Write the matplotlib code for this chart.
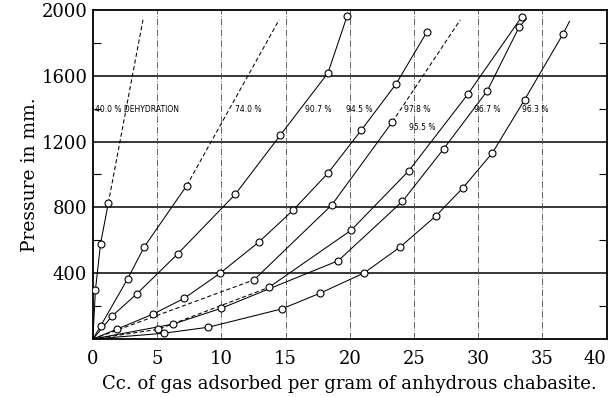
import matplotlib.pyplot as plt

plt.rcParams['font.family'] = 'DejaVu Serif'

# observed points: cc of gas adsorbed per gram, pressure in mm
x_400 = [0.2, 0.6, 1.2]
y_400 = [300, 580, 825]
x_740 = [0.6, 2.7, 4.0, 7.3]
y_740 = [79, 365, 560, 932]
x_907 = [1.5, 3.4, 6.6, 11.1, 14.6, 18.3, 19.8]
y_907 = [140, 273, 517, 881, 1240, 1617, 1965]
x_945 = [1.9, 4.7, 7.1, 9.9, 12.9, 15.6, 18.3, 20.9, 23.6, 26.0]
y_945 = [61, 152, 247, 400, 588, 784, 1008, 1270, 1550, 1866]
x_978 = [12.55, 18.6, 23.3]
y_978 = [360, 815, 1318]
x_955 = [5.1, 13.7, 20.1, 24.6, 29.2, 33.4]
y_955 = [59, 314, 661, 1023, 1489, 1960]
x_967 = [6.25, 10.0, 19.1, 24.1, 27.3, 30.7, 33.2]
y_967 = [91, 187, 476, 837, 1155, 1508, 1899]
x_963 = [5.5, 9.0, 14.7, 17.7, 21.1, 23.9, 26.7, 28.8, 31.1, 33.6, 36.6]
y_963 = [35, 72, 183, 279, 401, 558, 748, 918, 1131, 1453, 1854]

# where the curves are carried on past the last observation
end_400 = (3.9, 1940)
end_740 = (14.5, 1940)
end_978 = (28.6, 1940)
end_967 = (33.75, 1945)
end_963 = (37.1, 1930)

curve_names = ['40.0 % DEHYDRATION', '74.0 %', '90.7 %', '94.5 %',
               '97.8 %', '95.5 %', '96.7 %', '96.3 %']
name_x = [0.2, 11.1, 16.5, 19.7, 24.2, 24.6, 29.7, 33.4]
name_y = [1392, 1392, 1392, 1392, 1392, 1283, 1392, 1392]

fig = plt.figure(figsize=(6.11, 3.97), dpi=100)
ax = fig.add_axes([0.152, 0.146, 0.841, 0.829])

DASH = (0, (4, 2.5))


def run(xs, ys, ls='-'):
    ax.plot(xs, ys, color='black', lw=0.75, ls=ls, zorder=3)


def dots(xs, ys):
    ax.plot(xs, ys, 'o', ms=5, mfc='white', mec='black', mew=0.8, zorder=4)


# 40.0 % and 74.0 %: solid through the points, dashed beyond
for xs, ys, end in [(x_400, y_400, end_400), (x_740, y_740, end_740)]:
    run([0] + xs, [0] + ys)
    run([xs[-1], end[0]], [ys[-1], end[1]], DASH)
    dots(xs, ys)

run([0] + x_907, [0] + y_907)
dots(x_907, y_907)
run([0] + x_945, [0] + y_945)
dots(x_945, y_945)

# 97.8 %: dashed at both ends
run([0, x_978[0]], [0, y_978[0]], DASH)
run(x_978, y_978)
run([x_978[-1], end_978[0]], [y_978[-1], end_978[1]], DASH)
dots(x_978, y_978)

# 95.5 %: dashed near the origin
run([0] + x_955[:2], [0] + y_955[:2], DASH)
run(x_955[1:], y_955[1:])
dots(x_955, y_955)

for xs, ys, end in [(x_967, y_967, end_967), (x_963, y_963, end_963)]:
    run([0] + xs + [end[0]], [0] + ys + [end[1]])
    dots(xs, ys)

for t, tx, ty in zip(curve_names, name_x, name_y):
    ax.text(tx, ty, t, family='DejaVu Sans', fontsize=5.5, va='center',
            ha='left', zorder=5)

# grid: solid horizontals, dash-dot verticals
for yv in [400, 800, 1200, 1600]:
    ax.axhline(yv, color='black', lw=1.1, zorder=1)
for xv in range(5, 40, 5):
    ax.axvline(xv, color='0.3', lw=0.6, ls=(0, (8, 2, 1, 2)), zorder=1)

ax.set_xlim(0, 40)
ax.set_ylim(0, 2000)
ax.set_xticks(range(0, 41, 5))
ax.set_yticks([400, 800, 1200, 1600, 2000])
ax.set_yticks([200, 600, 1000, 1400, 1800], minor=True)
ax.tick_params(which='major', length=0, labelsize=13)
ax.tick_params(axis='x', pad=8)
ax.tick_params(axis='y', pad=4)
ax.tick_params(which='minor', direction='in', length=6, width=0.8,
               left=True, right=True)
for s in ax.spines.values():
    s.set_linewidth(1.3)

# last x label would run off the right edge
ax.get_xticklabels()[-1].set_horizontalalignment('right')
ax.get_xticklabels()[-1].set_x(40.3)

ax.set_xlabel('Cc. of gas adsorbed per gram of anhydrous chabasite.',
              fontsize=13, labelpad=5)
ax.set_ylabel('Pressure in mm.', fontsize=13.5, labelpad=2)

fig.savefig('out.png', dpi=100)
